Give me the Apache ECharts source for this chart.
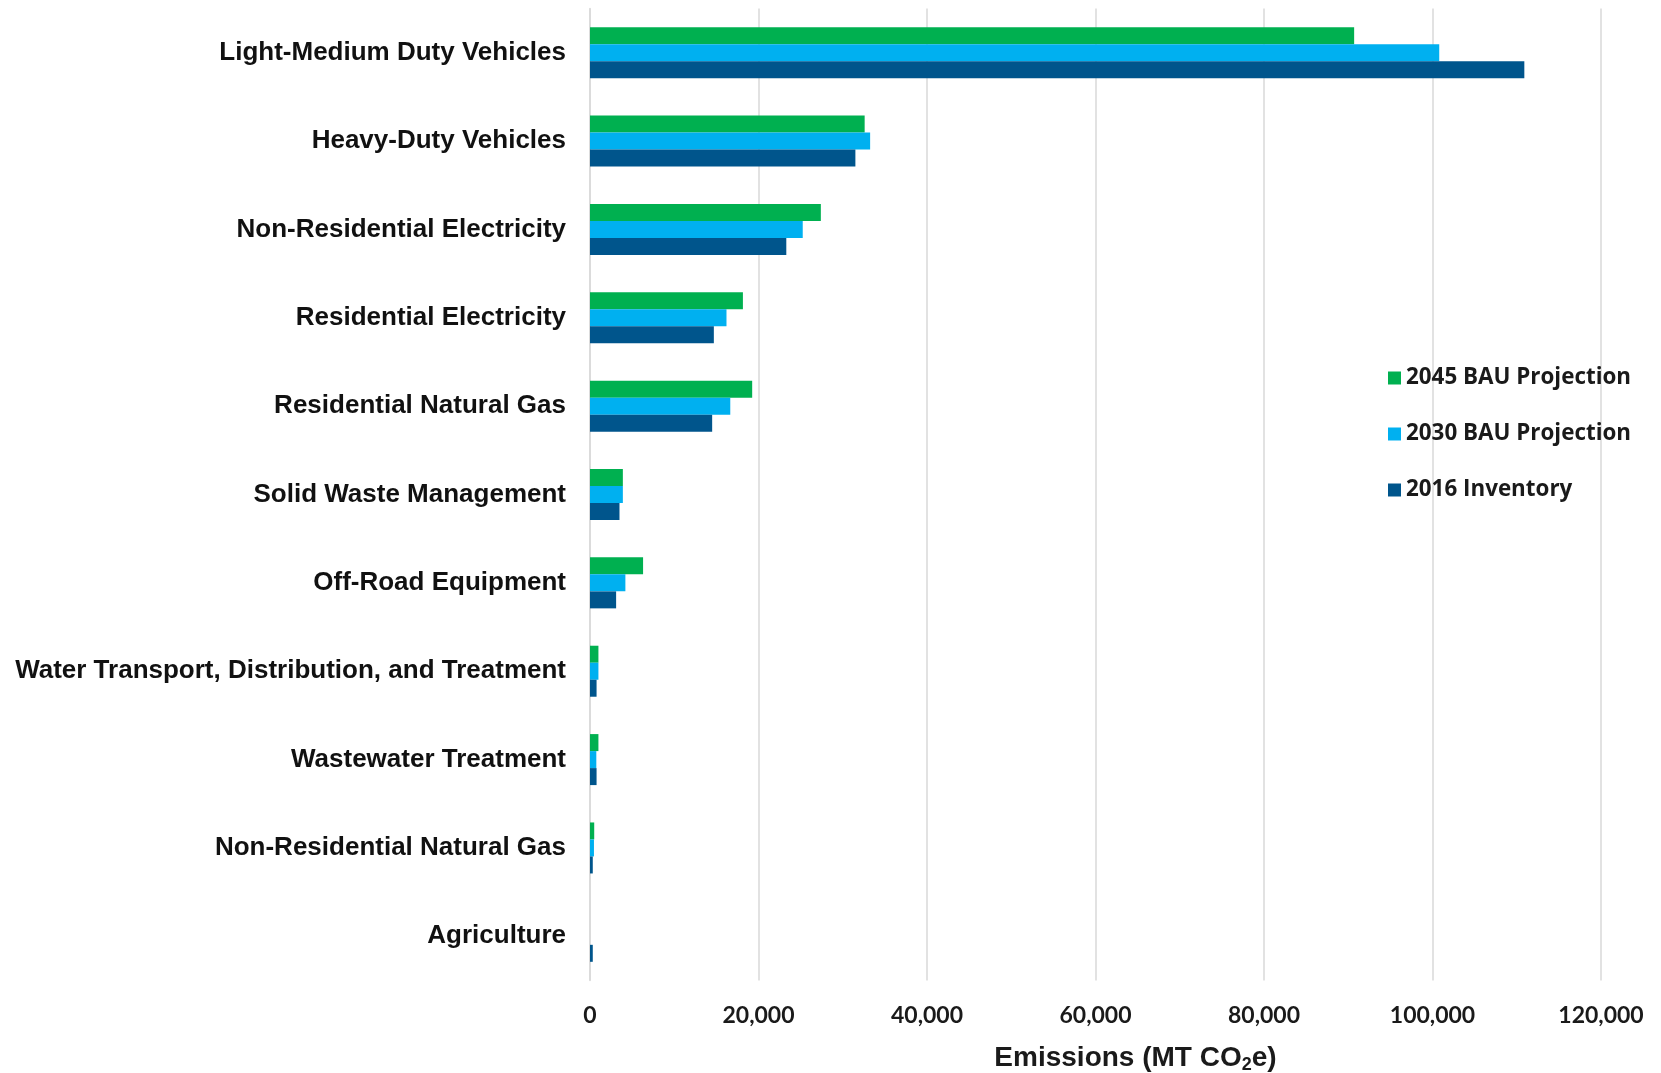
<!DOCTYPE html>
<html>
<head>
<meta charset="utf-8">
<title>Emissions by Sector</title>
<script src="https://cdn.jsdelivr.net/npm/echarts@6/dist/echarts.min.js"></script>
<style>
  html, body { margin: 0; padding: 0; background: #fff; }
  #chart { width: 1661px; height: 1073px; }
</style>
</head>
<body>
<div id="chart"></div>
<script>
// Sectors, top to bottom
const sectors = [
  'Light-Medium Duty Vehicles',
  'Heavy-Duty Vehicles',
  'Non-Residential Electricity',
  'Residential Electricity',
  'Residential Natural Gas',
  'Solid Waste Management',
  'Off-Road Equipment',
  'Water Transport, Distribution, and Treatment',
  'Wastewater Treatment',
  'Non-Residential Natural Gas',
  'Agriculture'
];

// Emissions (MT CO2e) per sector
const bau2045 = [90700, 32600, 27400, 18150, 19250, 3900, 6300, 1000, 1000, 500, 0];
const bau2030 = [100800, 33250, 25250, 16200, 16650, 3900, 4200, 1000, 750, 470, 0];
const inv2016 = [110900, 31500, 23300, 14700, 14500, 3500, 3100, 780, 780, 330, 330];

const seriesNames = ['2045 BAU Projection', '2030 BAU Projection', '2016 Inventory'];
const seriesColors = ['#00b050', '#00b0f0', '#00558c'];

const xTicks = { min: 0, max: 120000, interval: 20000 };

const chart = echarts.init(document.getElementById('chart'), null, { renderer: 'canvas' });

const seriesData = [bau2045, bau2030, inv2016];

chart.setOption({
  backgroundColor: '#ffffff',
  animation: false,
  grid: {
    left: 590, right: 60, top: 8.5, bottom: 92.5,
    containLabel: false,
    outerBoundsMode: 'none'
  },
  legend: {
    orient: 'vertical',
    left: 1383,
    top: 362,
    itemWidth: 13,
    itemHeight: 13,
    itemGap: 34,
    icon: 'rect',
    data: seriesNames,
    textStyle: {
      fontFamily: 'Open Sans',
      fontWeight: 'bold',
      fontSize: 22.4,
      lineHeight: 22,
      color: '#1a1a1a'
    }
  },
  xAxis: {
    type: 'value',
    min: xTicks.min,
    max: xTicks.max,
    interval: xTicks.interval,
    axisLine: { show: false },
    axisTick: { show: false },
    splitLine: { lineStyle: { color: '#d9d9d9', width: 1.5 } },
    axisLabel: {
      margin: 24,
      fontFamily: 'Lato',
      fontWeight: 'bold',
      fontSize: 23,
      color: '#1a1a1a',
      formatter: v => v.toLocaleString('en-US')
    },
    name: '{a|Emissions (MT CO}{s|2}{a|e)}',
    nameLocation: 'middle',
    nameGap: 62,
    nameTextStyle: {
      padding: [0, 0, 0, 80],
      rich: {
        a: { fontFamily: 'Liberation Sans', fontWeight: 'bold', fontSize: 28, color: '#1a1a1a', lineHeight: 32 },
        s: { fontFamily: 'Liberation Sans', fontWeight: 'bold', fontSize: 18, color: '#1a1a1a', lineHeight: 32, padding: [13, 0, 0, 0] }
      }
    }
  },
  yAxis: {
    type: 'category',
    data: sectors,
    inverse: true,
    axisLine: { show: true, lineStyle: { color: '#d9d9d9', width: 1.5 } },
    axisTick: { show: false },
    axisLabel: {
      margin: 24,
      fontFamily: 'Liberation Sans',
      fontWeight: 'bold',
      fontSize: 26,
      color: '#111111'
    }
  },
  series: seriesNames.map((name, i) => ({
    name: name,
    type: 'bar',
    data: seriesData[i],
    barWidth: 17,
    barGap: '0%',
    itemStyle: { color: seriesColors[i] }
  }))
});
</script>
</body>
</html>
